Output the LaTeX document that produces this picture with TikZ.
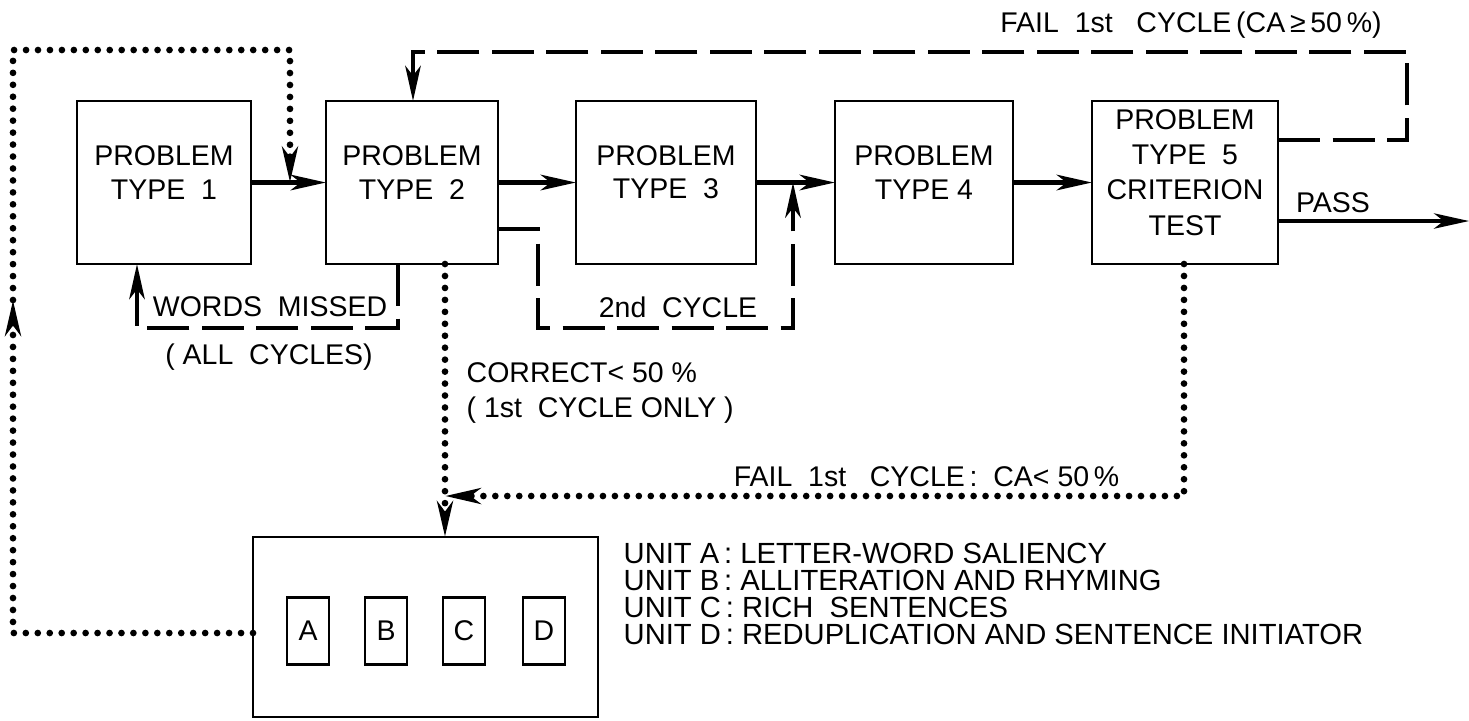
\documentclass[tikz,border=0pt]{standalone}
\usepackage{fontspec}
\setmainfont{Liberation Sans}
\usetikzlibrary{arrows.meta}
\usetikzlibrary{fit}
\tikzstyle{probbox}=[draw,line width=0.8pt,inner sep=0pt,outer sep=0pt,align=center]
\tikzstyle{mainflow}=[line width=1.4pt,->]
\tikzstyle{passflow}=[line width=0.9pt,->]
\tikzstyle{dashedflow}=[line width=1.3pt,dash pattern=on 12pt off 3.5pt,->]
\tikzstyle{dottedflow}=[line width=1.9pt,line cap=round,dash pattern=on 0pt off 3.4pt,->]
\tikzstyle{lbl}=[inner sep=0pt]

\begin{document}
\begin{tikzpicture}[x=0.01cm,y=-0.01cm,>={Stealth[length=10pt,width=4.4pt,inset=2.8pt]},
  font=\fontsize{8.1}{9.4}\selectfont]
\useasboundingbox (0,0) rectangle (1469,720);

% problem types, left to right
\node[probbox,fit={(77,101) (251,264)}] (pt1) {PROBLEM\\TYPE~~1};
\node[probbox,fit={(326,101) (498,264)}] (pt2) {PROBLEM\\TYPE~~2};
\node[probbox,fit={(576,101) (756,264)}] (pt3) {PROBLEM\\TYPE~~3};
\node[probbox,fit={(835,101) (1013,264)}] (pt4) {PROBLEM\\TYPE~4};
\node[probbox,fit={(1092,101) (1278,264)},font=\fontsize{8.1}{10}\selectfont] (pt5) {PROBLEM\\TYPE~~5\\CRITERION\\TEST};

% remedial units
\node[probbox,fit={(253,537) (598,717)}] (units) {};
\foreach \u/\x in {A/308,B/386,C/464,D/544}
  \node[probbox,minimum width=0.42cm,minimum height=0.67cm] (sub\u) at (\x,631) {\u};

% main sequence
\draw[mainflow] (pt1.east) -- (pt2.west);
\draw[mainflow] (pt2.east) -- (pt3.west);
\draw[mainflow] (pt3.east) -- (pt4.west);
\draw[mainflow] (pt4.east) -- (pt5.west);
\coordinate (out) at (1469,221);
\draw[passflow] (pt5.east |- out) -- (out);
\node[lbl] (pass) at (1333,203) {PASS};

% dashed loops
\coordinate (w1) at (398,328);
\coordinate (w2) at (137,328);
\draw[dashedflow] (pt2.south -| w1) -- (w1) -- (w2) -- (w2 |- pt1.south);
\node[lbl] (missed) at (270,307) {WORDS~~MISSED};
\node[lbl] (allcyc) at (269,357) {(~ALL~~CYCLES)};

\coordinate (c1) at (538,229);
\coordinate (c2) at (538,328);
\coordinate (c3) at (793,328);
\draw[dashedflow] (pt2.east |- c1) -- (c1) -- (c2) -- (c3) -- (c3 |- pt3.east);
\node[lbl] (cyc2) at (678,307) {2nd~~CYCLE};

\coordinate (f1) at (1407,140);
\coordinate (f2) at (1407,52);
\coordinate (f3) at (413,52);
\draw[dashedflow] (pt5.east |- f1) -- (f1) -- (f2) -- (f3) -- (f3 |- pt2.north);
\node[lbl] (failhi) at (1191,25) {FAIL~~1st~~~CYCLE\,(CA\,≥\,50\,\%)};

% dotted loops
\coordinate (d1) at (13,633);
\coordinate (d2) at (13,300);
\coordinate (d3) at (13,50);
\coordinate (d4) at (290,50);
\draw[dottedflow] (units.west |- d1) -- (d1) -- (d2);
\draw[dottedflow] (d2) -- (d3) -- (d4) -- (d4 |- pt1.east);

\coordinate (d5) at (445,496);
\coordinate (d6) at (1184,496);
\draw[dottedflow] (pt2.south -| d5) -- (d5) -- (d5 |- units.north);
\draw[dottedflow] (pt5.south -| d6) -- (d6) -- (d5);
\node[lbl,anchor=west,align=left,font=\fontsize{8.1}{10}\selectfont] (corr) at (466,393)
  {CORRECT<~50~\%\\(~1st~~CYCLE ONLY~)};
\node[lbl,anchor=east] (faillo) at (1120,477) {FAIL~~1st~~~CYCLE\,:~~CA<~50\,\%};

% unit key
\foreach \u/\desc [count=\i] in {A/LETTER-WORD SALIENCY,B/ALLITERATION AND RHYMING,
    C/RICH~~SENTENCES,D/REDUPLICATION AND SENTENCE INITIATOR}
  \node[lbl,anchor=west,font=\fontsize{8.3}{9.6}\selectfont] (key\u) at (623,526+27*\i) {UNIT~\u\,:~\desc};
\end{tikzpicture}
\end{document}
